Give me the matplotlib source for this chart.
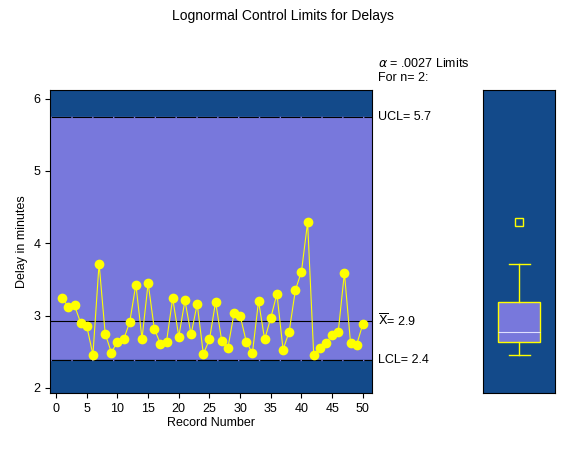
import matplotlib
matplotlib.use('Agg')
import matplotlib.pyplot as plt
import numpy as np

records = np.arange(1, 51)
delays = [3.24, 3.12, 3.14, 2.90, 2.85, 2.46, 3.72, 2.75, 2.49, 2.64,
          2.67, 2.91, 3.43, 2.68, 3.45, 2.82, 2.61, 2.64, 3.24, 2.71,
          3.21, 2.74, 3.16, 2.47, 2.67, 3.19, 2.65, 2.55, 3.03, 3.00,
          2.64, 2.48, 3.20, 2.67, 2.97, 3.30, 2.53, 2.78, 3.35, 3.61,
          4.29, 2.45, 2.55, 2.62, 2.73, 2.78, 3.59, 2.62, 2.60, 2.88]
ucl, mean, lcl = 5.75, 2.92, 2.38

dark = '#134a8a'
light = '#7878dc'
yellow = '#ffff00'

plt.rcParams['font.family'] = ['Liberation Sans', 'DejaVu Sans']
fig = plt.figure(figsize=(5.65, 4.5), dpi=100)
fig.text(0.5, 0.965, 'Lognormal Control Limits for Delays', ha='center', va='center', fontsize=10)

ax = fig.add_axes([50/565, 57/450, 322/565, 303/450])
ax.set_xlim(-1, 51.5)
ax.set_ylim(1.93, 6.12)
ax.axhspan(ucl, 7, color=dark, zorder=0)
ax.axhspan(lcl, ucl, color=light, zorder=0)
ax.axhspan(0, lcl, color=dark, zorder=0)
ax.axhline(ucl, color='black', lw=0.8, zorder=1)
ax.axhline(lcl, color='black', lw=0.8, zorder=1)
ax.axhline(mean, color='black', lw=0.8, zorder=1)
# dashed highlights on the limit lines
ax.axhline(ucl, color=light, lw=1.0, ls=(0, (1, 14)), zorder=1.5)
ax.axhline(lcl, color=light, lw=1.0, ls=(0, (1, 14)), zorder=1.5)
ax.plot(records, delays, color=yellow, lw=0.8, marker='o', ms=6, zorder=2)
ax.set_xticks(range(0, 51, 5))
ax.set_yticks([2, 3, 4, 5, 6])
ax.set_xlabel('Record Number', fontsize=9, labelpad=2)
ax.set_ylabel('Delay in minutes', fontsize=9)
ax.tick_params(labelsize=9)

tx = 1.02
ax.text(tx, 1.02, r'$\alpha$ = .0027 Limits' + '\nFor n= 2:', transform=ax.transAxes, fontsize=9, va='bottom')
ax.text(tx, ucl, 'UCL= 5.7', transform=ax.get_yaxis_transform(), fontsize=9, va='center')
ax.text(tx, mean, r'$\overline{\mathrm{X}}$= 2.9', transform=ax.get_yaxis_transform(), fontsize=9, va='center')
ax.text(tx, lcl, 'LCL= 2.4', transform=ax.get_yaxis_transform(), fontsize=9, va='center')

bx = fig.add_axes([483/565, 57/450, 72/565, 303/450], sharey=ax)
bx.set_facecolor(dark)
bx.boxplot(delays, widths=0.7, patch_artist=True,
           boxprops=dict(facecolor=light, edgecolor=yellow),
           whiskerprops=dict(color=yellow), capprops=dict(color=yellow),
           medianprops=dict(color='#e0e0ff', lw=0.8),
           flierprops=dict(marker='s', mfc='none', mec=yellow, ms=6))
bx.set_xlim(0.4, 1.6)
bx.set_xticks([])
bx.tick_params(left=False, labelleft=False)
fig.savefig('out.png', dpi=100)
